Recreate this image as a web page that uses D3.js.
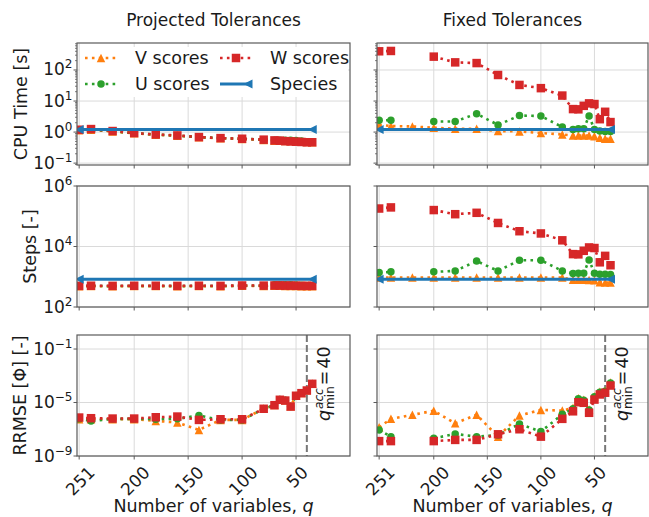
<!DOCTYPE html>
<html>
<head>
<meta charset="utf-8">
<script src="https://cdn.jsdelivr.net/npm/d3@7"></script>
<style>
  body { margin: 0; background: #fff; }
  svg { display: block; }
  text { font-family: "DejaVu Sans", sans-serif; fill: #1a1a1a; }
</style>
</head>
<body>
<svg id="fig" width="649" height="517"></svg>
<script>
// ---- data -------------------------------------------------------------
// number of retained variables q (x axis, plotted right-to-left)
const q = [251, 240, 220, 200, 180, 160, 140, 120, 100, 80, 70, 65, 60, 55, 50, 45, 40, 35];
const speciesQ = [251, 35];

// CPU time [s]
const projCpuV = [1.14, 1.19, 1.04, 0.91, 0.82, 0.76, 0.68, 0.63, 0.60, 0.56, 0.53, 0.53, 0.52, 0.52, 0.51, 0.50, 0.48, 0.47];
const projCpuU = [1.16, 1.21, 1.06, 0.92, 0.83, 0.77, 0.69, 0.64, 0.61, 0.57, 0.55, 0.55, 0.55, 0.55, 0.54, 0.52, 0.49, 0.48];
const projCpuW = [1.19, 1.25, 1.08, 0.93, 0.84, 0.78, 0.69, 0.64, 0.61, 0.57, 0.54, 0.53, 0.51, 0.50, 0.49, 0.48, 0.47, 0.47];
const fixCpuV  = [1.72, 1.56, 1.52, 1.38, 1.28, 1.28, 1.08, 1.05, 0.93, 0.84, 0.78, 0.78, 0.78, 0.78, 0.73, 0.66, 0.61, 0.61];
const fixCpuU  = [2.4, 2.4, null, 2.2, 2.2, 3.9, 1.7, 3.4, 3.3, 1.45, 1.2, 1.28, 1.28, 3.3, 1.2, 1.08, 1.05, 1.05];
const fixCpuW  = [400, 410, null, 269, 176, 167, 69, 33, 26, 15, 5.5, 5.4, 7.0, 8.4, 8.0, 2.6, 4.5, 2.1];
const speciesCpu = [1.2, 1.2];

// integration steps [-]
const projStepsV = [485, 490, 485, 490, 490, 485, 490, 485, 500, 495, 500, 500, 495, 495, 490, 485, 485, 485];
const projStepsU = [490, 495, 490, 495, 495, 490, 495, 490, 505, 505, 540, 545, 545, 540, 530, 520, 515, 510];
const projStepsW = [500, 505, 500, 505, 505, 500, 505, 500, 515, 510, 515, 515, 510, 510, 505, 500, 500, 500];
const fixStepsV  = [950, 940, 940, 940, 940, 950, 940, 940, 950, 940, 800, 790, 790, 780, 760, 660, 650, 640];
const fixStepsU  = [1370, 1450, null, 1450, 1560, 3300, 1560, 3500, 3500, 1560, 1270, 1300, 1300, 3600, 1300, 1200, 1200, 1180];
const fixStepsW  = [180000, 196000, null, 160000, 117000, 130000, 60000, 32000, 27000, 16000, 5600, 5500, 7200, 9300, 8900, 3000, 4900, 2400];
const speciesSteps = [830, 830];

// relative RMS error [-]
const projErrV = [5.7e-7, 5.7e-7, 5.7e-7, 5.7e-7, 4.2e-7, 3.2e-7, 8.9e-8, 5.0e-7, 5.0e-7, 3.5e-6, 6.5e-6, 1.7e-5, 1.5e-5, 5.2e-6, 3.3e-5, 5.2e-5, 8.1e-5, 2.6e-4];
const projErrU = [6.0e-7, 4.2e-7, 6.0e-7, 6.0e-7, 5.7e-7, 6.0e-7, 1.06e-6, 5.0e-7, 5.0e-7, 3.4e-6, 6.4e-6, 1.65e-5, 1.45e-5, 5.1e-6, 3.25e-5, 5.1e-5, 8.0e-5, 2.55e-4];
const projErrW = [7.5e-7, 6.7e-7, 6.3e-7, 6.3e-7, 7.9e-7, 8.9e-7, 5.0e-7, 5.6e-7, 5.6e-7, 3.4e-6, 6.3e-6, 1.6e-5, 1.4e-5, 5.0e-6, 3.2e-5, 5.0e-5, 7.9e-5, 2.5e-4];
const fixErrV = [1.4e-7, 6.0e-7, 1.2e-6, 2.4e-6, 2.8e-7, 1.2e-6, 2.8e-8, 1.06e-6, 2.8e-6, 2.5e-6, 4.0e-6, 2.1e-5, 1.6e-5, 3.0e-6, 3.0e-5, 6.5e-5, 7.5e-5, 3.2e-4];
const fixErrU = [8.9e-8, 2.8e-8, null, 2.1e-8, 4.5e-8, 2.8e-8, 3.8e-8, 2.5e-7, 6.7e-8, 1.3e-6, 3.4e-6, 1.9e-5, 1.5e-5, 2.7e-6, 2.7e-5, 5.9e-5, 6.9e-5, 2.9e-4];
const fixErrW = [1.3e-8, 1.3e-8, null, 1.3e-8, 1.6e-8, 1.6e-8, 4.2e-8, 1.0e-7, 2.8e-8, 6.0e-7, 2.2e-6, 1.05e-5, 9.5e-6, 1.7e-6, 1.66e-5, 4.0e-5, 5.4e-5, 1.86e-4];

// minimum accurate number of variables
const qMinAcc = 40;

// tick values / labels
const xTicks = [251, 200, 150, 100, 50];
const cpuTicks = [-1, 0, 1, 2];       // decades
const stepsTicks = [2, 4, 6];
const errTicks = [-9, -5, -1];

const colTitles = ['Projected Tolerances', 'Fixed Tolerances'];
const rowLabels = ['CPU Time [s]', 'Steps [-]', 'RRMSE [\u03a6] [-]'];
const seriesNames = ['V scores', 'W scores', 'U scores', 'Species'];

// ---- layout & style -----------------------------------------------------
const cols = [{ x0: 77, x1: 350 }, { x0: 377, x1: 648 }];
const rows = [
  { y0: 43, y1: 165, domain: [0.087, 740], ticks: cpuTicks, minor: true, labelX: 27 },
  { y0: 186, y1: 307, domain: [1e2, 1e6], ticks: stepsTicks, minor: false, labelX: 36 },
  { y0: 335, y1: 456, domain: [1e-9, 1.12], ticks: errTicks, minor: false, labelX: 26 }
];
const style = {
  V: { color: '#ff7f0e', marker: 'tri', size: 8.5 },
  U: { color: '#2ca02c', marker: 'circle', size: 7.5 },
  W: { color: '#d62728', marker: 'square', size: 8.5 },
  S: { color: '#1f77b4', marker: 'left', size: 9 }
};
const SPINE = '#5a5a5a', GRID = '#dadada';

// series per panel [row][col]
const panelData = [
  [ { V: projCpuV, U: projCpuU, W: projCpuW, S: speciesCpu },
    { V: fixCpuV,  U: fixCpuU,  W: fixCpuW,  S: speciesCpu } ],
  [ { V: projStepsV, U: projStepsU, W: projStepsW, S: speciesSteps },
    { V: fixStepsV,  U: fixStepsU,  W: fixStepsW,  S: speciesSteps } ],
  [ { V: projErrV, U: projErrU, W: projErrW },
    { V: fixErrV,  U: fixErrU,  W: fixErrW } ]
];

function markerPath(type, s) {
  const h = s / 2;
  switch (type) {
    case 'tri': return `M0,${-h}L${h},${h}L${-h},${h}Z`;
    case 'left': return `M${-h},0L${h},${-h}L${h},${h}Z`;
    case 'square': return `M${-h},${-h}H${h}V${h}H${-h}Z`;
    default: return d3.symbol(d3.symbolCircle, Math.PI * h * h)();
  }
}

function expText(e) { return e < 0 ? '\u2212' + (-e) : String(e); }

const svg = d3.select('#fig');

// column titles
cols.forEach((c, i) => {
  svg.append('text').attr('x', (c.x0 + c.x1) / 2).attr('y', 26)
    .attr('text-anchor', 'middle').style('font-size', '17px').text(colTitles[i]);
});

rows.forEach((r, ri) => {
  cols.forEach((c, ci) => {
    const x = d3.scaleLinear().domain([253, 0]).range([c.x0, c.x1]);
    const y = d3.scaleLog().domain(r.domain).range([r.y1, r.y0]);
    const g = svg.append('g');
    const clipId = `clip-${ri}-${ci}`;
    svg.append('clipPath').attr('id', clipId).append('rect')
      .attr('x', c.x0).attr('y', r.y0).attr('width', c.x1 - c.x0).attr('height', r.y1 - r.y0);

    // grid
    xTicks.forEach(t => g.append('line').attr('x1', x(t)).attr('x2', x(t))
      .attr('y1', r.y0).attr('y2', r.y1).attr('stroke', GRID).attr('stroke-width', 1));
    r.ticks.forEach(e => g.append('line').attr('x1', c.x0).attr('x2', c.x1)
      .attr('y1', y(Math.pow(10, e))).attr('y2', y(Math.pow(10, e)))
      .attr('stroke', GRID).attr('stroke-width', 1));

    // q_min^acc marker line
    if (ri === 2) {
      g.append('line').attr('x1', x(qMinAcc)).attr('x2', x(qMinAcc))
        .attr('y1', r.y0).attr('y2', r.y1)
        .attr('stroke', '#777').attr('stroke-width', 2).attr('stroke-dasharray', '7 3');
    }

    // data
    const dg = g.append('g').attr('clip-path', `url(#${clipId})`);
    const data = panelData[ri][ci];
    ['V', 'U', 'W', 'S'].forEach(k => {
      if (!data[k]) return;
      const st = style[k];
      const xs = k === 'S' ? speciesQ : q;
      const pts = xs.map((qq, i) => [qq, data[k][i]]);
      const line = d3.line().defined(d => d[1] != null).x(d => x(d[0])).y(d => y(d[1]));
      dg.append('path').attr('d', line(pts)).attr('fill', 'none')
        .attr('stroke', st.color)
        .attr('stroke-width', k === 'S' ? 3 : 2.6)
        .attr('stroke-dasharray', k === 'S' ? null : '2.6 4.3');
      dg.selectAll(null).data(pts.filter(d => d[1] != null)).enter().append('path')
        .attr('d', markerPath(st.marker, st.size))
        .attr('transform', d => `translate(${x(d[0])},${y(d[1])})`)
        .attr('fill', st.color);
    });

    // spines
    g.append('rect').attr('x', c.x0).attr('y', r.y0)
      .attr('width', c.x1 - c.x0).attr('height', r.y1 - r.y0)
      .attr('fill', 'none').attr('stroke', SPINE).attr('stroke-width', 1.2);

    // x ticks
    xTicks.forEach(t => {
      g.append('line').attr('x1', x(t)).attr('x2', x(t)).attr('y1', r.y1).attr('y2', r.y1 + 3.5)
        .attr('stroke', SPINE).attr('stroke-width', 1);
      if (ri === 2) {
        const lab = g.append('text').attr('text-anchor', 'middle').attr('dy', '0.36em')
          .style('font-size', '17px').text(t);
        const w = lab.node().getComputedTextLength();
        const yc = r.y1 + 9 + (w + 12.4) / (2 * Math.SQRT2);
        lab.attr('transform', `translate(${x(t) + 1},${yc}) rotate(-45)`);
      }
    });

    // y ticks (major + minor)
    r.ticks.forEach(e => {
      const yy = y(Math.pow(10, e));
      g.append('line').attr('x1', c.x0 - 3.5).attr('x2', c.x0).attr('y1', yy).attr('y2', yy)
        .attr('stroke', SPINE).attr('stroke-width', 1);
      if (ci === 0) {
        const t = g.append('text').attr('x', c.x0 - 4.5).attr('y', yy + 5.5)
          .attr('text-anchor', 'end').style('font-size', '17px');
        t.append('tspan').text('10');
        t.append('tspan').attr('dy', -7).style('font-size', '12px').text(expText(e));
      }
    });
    if (r.minor) {
      const [lo, hi] = r.domain;
      for (let e = Math.floor(Math.log10(lo)); e <= Math.ceil(Math.log10(hi)); e++) {
        for (let s = 2; s <= 9; s++) {
          const v = s * Math.pow(10, e);
          if (v < lo || v > hi) continue;
          g.append('line').attr('x1', c.x0 - 2).attr('x2', c.x0).attr('y1', y(v)).attr('y2', y(v))
            .attr('stroke', SPINE).attr('stroke-width', 0.8);
        }
      }
    }

    // q_min^acc annotation
    if (ri === 2) {
      const a = g.append('g').attr('transform', `translate(${x(qMinAcc) + 23},421) rotate(-90)`);
      const tq = a.append('text').attr('x', 0).attr('y', 0).style('font-size', '17.5px')
        .style('font-style', 'italic').text('q');
      const wq = tq.node().getComputedTextLength();
      const tsup = a.append('text').attr('x', wq + 1).attr('y', -7).style('font-size', '12px')
        .style('font-style', 'italic').text('acc');
      const tsub = a.append('text').attr('x', wq + 1).attr('y', 4).style('font-size', '12px').text('min');
      const ws = Math.max(tsup.node().getComputedTextLength(), tsub.node().getComputedTextLength());
      const teq = a.append('text').attr('x', wq + ws + 2).attr('y', 0).style('font-size', '17.5px').text('=');
      const weq = teq.node().getComputedTextLength();
      a.append('text').attr('x', wq + ws + weq + 4).attr('y', 0).style('font-size', '17.5px').text(qMinAcc);
    }

    // axis labels
    if (ci === 0) {
      svg.append('text').attr('transform', `translate(${r.labelX},${(r.y0 + r.y1) / 2}) rotate(-90)`)
        .attr('text-anchor', 'middle').style('font-size', '17.5px').text(rowLabels[ri]);
    }
    if (ri === 2) {
      const t = svg.append('text').attr('x', (c.x0 + c.x1) / 2).attr('y', 512)
        .attr('text-anchor', 'middle').style('font-size', '17.5px');
      t.append('tspan').text('Number of variables, ');
      t.append('tspan').style('font-style', 'italic').text('q');
    }
  });
});

// legend (top-left panel)
const lg = svg.append('g');
lg.append('rect').attr('x', 80).attr('y', 47).attr('width', 268).attr('height', 50).attr('fill', '#fff');
const entries = [
  { k: 'V', col: 0, row: 0 }, { k: 'W', col: 1, row: 0 },
  { k: 'U', col: 0, row: 1 }, { k: 'S', col: 1, row: 1 }
];
entries.forEach((en, i) => {
  const st = style[en.k];
  const lx = en.col === 0 ? 85 : 220;
  const ly = en.row === 0 ? 58 : 84;
  lg.append('line').attr('x1', lx).attr('x2', lx + 32).attr('y1', ly).attr('y2', ly)
    .attr('stroke', st.color)
    .attr('stroke-width', en.k === 'S' ? 3 : 2.6)
    .attr('stroke-dasharray', en.k === 'S' ? null : '2.6 4.3');
  const mx = en.k === 'S' ? lx + 28 : lx + 16;
  lg.append('path').attr('d', markerPath(st.marker, st.size))
    .attr('transform', `translate(${mx},${ly})`).attr('fill', st.color);
  lg.append('text').attr('x', lx + 50).attr('y', ly + 6).style('font-size', '17.5px')
    .text(seriesNames[i]);
});
</script>
</body>
</html>
